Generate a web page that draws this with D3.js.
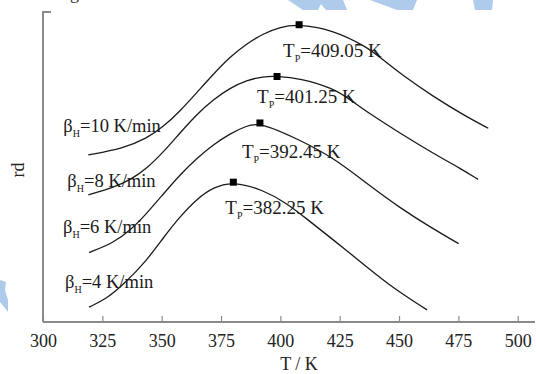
<!DOCTYPE html>
<html>
<head>
<meta charset="utf-8">
<script src="https://cdn.jsdelivr.net/npm/d3@7"></script>
<style>
  body { margin: 0; background: #fff; }
  svg { display: block; font-family: "Liberation Serif", "DejaVu Serif", serif; }
</style>
</head>
<body>
<div id="chart"></div>
<script>
// heating rates (K/min) and peak temperatures
const rates = [10, 8, 6, 4];
const peakLabels = ["409.05", "401.25", "392.45", "382.25"];
const xTicks = [300, 325, 350, 375, 400, 425, 450, 475, 500];

// curves, T (K) and rd (arb. units)
const T10 = [319.1, 333.8, 343.7, 350.7, 357.7, 364.8, 371.8, 378.8, 385.8, 392.8, 399.9, 407.9, 422.2, 436.4, 443.4, 450.4, 464.4, 478.5, 487.6];
const rd10 = [5.39, 5.60, 5.92, 6.30, 6.80, 7.40, 8.00, 8.55, 8.98, 9.30, 9.52, 9.61, 9.42, 8.88, 8.45, 8.02, 7.27, 6.62, 6.25];
const T8 = [319.1, 329.5, 336.7, 343.7, 350.7, 357.7, 364.8, 371.8, 378.8, 385.8, 392.8, 398.6, 408.3, 422.2, 429.3, 436.4, 450.4, 464.4, 475.7, 483.3];
const rd8 = [4.10, 4.33, 4.58, 4.95, 5.48, 6.10, 6.70, 7.18, 7.55, 7.80, 7.92, 7.93, 7.86, 7.54, 7.18, 6.78, 6.09, 5.44, 4.96, 4.60];
const T6 = [319.4, 329.6, 336.7, 343.7, 350.7, 357.7, 364.8, 371.8, 378.8, 385.8, 391.4, 408.3, 422.3, 436.4, 450.4, 464.4, 475.1];
const rd6 = [2.24, 2.55, 2.95, 3.50, 4.13, 4.75, 5.28, 5.72, 6.08, 6.33, 6.44, 5.87, 5.30, 4.47, 3.68, 3.00, 2.53];
const T4 = [319.4, 326.8, 333.8, 343.7, 350.7, 357.7, 364.8, 371.8, 380.2, 392.8, 402.7, 410.4, 422.3, 436.4, 447.6, 461.8];
const rd4 = [0.48, 0.75, 1.20, 1.98, 2.72, 3.40, 3.97, 4.35, 4.53, 4.26, 3.83, 3.37, 2.65, 1.78, 1.09, 0.39];
// peak marker positions
const peakT = [407.9, 398.6, 391.4, 380.2];
const peakRd = [9.59, 7.92, 6.42, 4.51];

const seriesT = [T10, T8, T6, T4];
const seriesRd = [rd10, rd8, rd6, rd4];

const w = 537, h = 374;
const svg = d3.select("#chart").append("svg")
  .attr("width", w)
  .attr("height", h);

const x = d3.scaleLinear().domain([300, 500]).range([43, 517.7]);
const y = d3.scaleLinear().domain([0, 10]).range([322, 12]);

// watermark bits
const blue = "#aecbeb";
[
  [[288,0],[343,0],[347,10],[326,10],[321,4],[318,10],[303,10]],
  [[370,0],[417,0],[413,10],[397,10]],
  [[473,0],[493,0],[492,10],[475,10]],
  [[0,280],[6,282],[5,290],[8,300],[8,312],[0,302]]
].forEach(function(p) {
  svg.append("polygon")
    .attr("points", p.map(function(d) { return d.join(","); }).join(" "))
    .attr("fill", blue);
});
svg.append("text").attr("x", 70).attr("y", -1).attr("font-size", 18).attr("fill", "#333").text("g");

// axes
const axisColor = "#8a8a8a";
const xAxis = svg.append("g")
  .attr("transform", "translate(0," + y(0) + ")")
  .call(d3.axisBottom(x).tickValues(xTicks).tickSize(-6).tickPadding(12).tickFormat(d3.format("d")));
xAxis.select(".domain").remove();
xAxis.selectAll(".tick line").attr("stroke", axisColor).attr("stroke-width", 1.2);
xAxis.selectAll(".tick text")
  .attr("fill", "#222")
  .attr("font-size", 18)
  .attr("font-family", "Liberation Serif, serif");
svg.append("line")
  .attr("x1", x(300)).attr("x2", 535)
  .attr("y1", y(0)).attr("y2", y(0))
  .attr("stroke", axisColor).attr("stroke-width", 2);
svg.append("path")
  .attr("d", "M" + (x(300) + 8) + "," + y(10) + "H" + x(300) + "V" + y(0))
  .attr("fill", "none")
  .attr("stroke", axisColor).attr("stroke-width", 2);

svg.append("text")
  .attr("x", 299).attr("y", 370)
  .attr("text-anchor", "middle")
  .attr("font-size", 18).attr("fill", "#222")
  .text("T / K");
svg.append("text")
  .attr("transform", "translate(24,170) rotate(-90)")
  .attr("text-anchor", "middle")
  .attr("font-size", 18).attr("fill", "#222")
  .text("rd");

// curves
const line = d3.line()
  .x(function(d) { return x(d[0]); })
  .y(function(d) { return y(d[1]); })
  .curve(d3.curveBasis);

seriesT.forEach(function(ts, i) {
  const pts = ts.map(function(t, j) { return [t, seriesRd[i][j]]; });
  svg.append("path")
    .datum(pts)
    .attr("d", line)
    .attr("fill", "none")
    .attr("stroke", "#1a1a1a")
    .attr("stroke-width", 1.3);
});

// peak markers
svg.selectAll("rect.peak")
  .data(peakT)
  .enter()
  .append("rect")
  .attr("class", "peak")
  .attr("x", function(d) { return x(d) - 3.5; })
  .attr("y", function(d, i) { return y(peakRd[i]) - 3.5; })
  .attr("width", 7)
  .attr("height", 7)
  .attr("fill", "#000");

// peak labels
const peakOff = [[-16, 32], [-20, 27], [-18, 35], [-8, 32]];
peakLabels.forEach(function(lab, i) {
  const t = svg.append("text")
    .attr("x", x(peakT[i]) + peakOff[i][0])
    .attr("y", y(peakRd[i]) + peakOff[i][1])
    .attr("font-size", 19)
    .attr("fill", "#1a1a1a");
  t.append("tspan").text("T");
  t.append("tspan").attr("font-size", 10).attr("dy", 5).text("P");
  t.append("tspan").attr("dy", -5).text("=" + lab + " K");
});

// heating rate labels
const rateOff = [[-25, -23], [-21, -8], [-26, -20], [-24, -19]];
rates.forEach(function(r, i) {
  const t = svg.append("text")
    .attr("x", x(seriesT[i][0]) + rateOff[i][0])
    .attr("y", y(seriesRd[i][0]) + rateOff[i][1])
    .attr("font-size", 18.5)
    .attr("fill", "#1a1a1a");
  t.append("tspan").text("β");
  t.append("tspan").attr("font-size", 10).attr("dy", 5).text("H");
  t.append("tspan").attr("dy", -5).text("=" + r + " K/min");
});
</script>
</body>
</html>
